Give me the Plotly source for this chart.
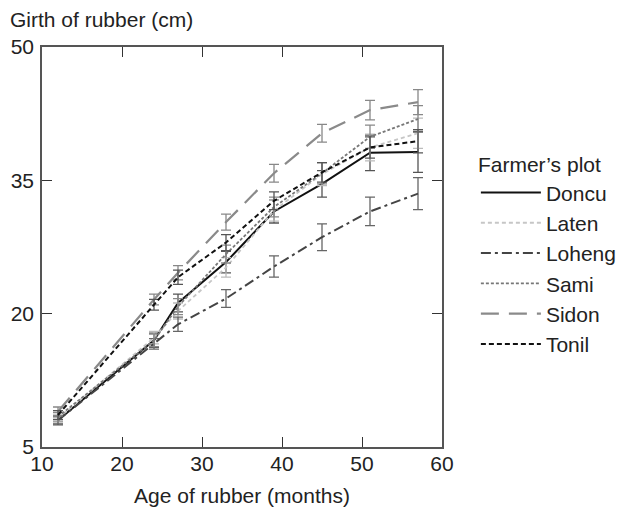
import plotly.graph_objects as go

ages = [12, 24, 27, 33, 39, 45, 51, 57]

doncu = [8.0, 17.0, 21.2, 25.8, 31.5, 34.6, 38.1, 38.2]
laten = [8.2, 17.3, 20.3, 25.2, 31.6, 35.7, 38.7, 40.3]
loheng = [8.0, 16.6, 18.8, 21.7, 25.3, 28.6, 31.5, 33.5]
sami = [8.4, 17.0, 20.8, 26.7, 32.0, 35.8, 39.9, 41.9]
sidon = [9.0, 21.6, 24.6, 30.3, 35.8, 40.3, 42.9, 43.8]
tonil = [8.6, 21.0, 24.1, 28.0, 32.7, 35.9, 38.7, 39.4]

doncu_err = [0.5, 0.8, 1.0, 1.2, 1.3, 1.5, 2.0, 2.3]
laten_err = [0.5, 0.7, 0.9, 1.1, 1.2, 1.3, 1.5, 1.7]
loheng_err = [0.4, 0.6, 0.8, 1.0, 1.2, 1.5, 1.6, 1.8]
sami_err = [0.5, 0.7, 0.9, 1.0, 1.1, 1.2, 1.3, 1.5]
sidon_err = [0.5, 0.6, 0.8, 0.9, 1.0, 1.0, 1.1, 1.4]
tonil_err = [0.5, 0.6, 0.8, 0.9, 1.0, 1.1, 1.2, 1.3]

y_ticks = [5, 20, 35, 50]
x_ticks = [10, 20, 30, 40, 50, 60]

series = [
    ("Doncu", doncu, doncu_err, "#111111", "solid", 2.0, "#555555"),
    ("Laten", laten, laten_err, "#c6c6c6", "4px,3px", 1.8, "#bbbbbb"),
    ("Loheng", loheng, loheng_err, "#444444", "10px,4px,3px,4px", 2.0, "#666666"),
    ("Sami", sami, sami_err, "#777777", "3px,2px", 1.8, "#888888"),
    ("Sidon", sidon, sidon_err, "#8a8a8a", "18px,10px", 2.2, "#888888"),
    ("Tonil", tonil, tonil_err, "#111111", "5px,3px", 2.0, "#555555"),
]

fig = go.Figure()
for name, vals, errs, color, dash, width, ecolor in series:
    fig.add_trace(go.Scatter(
        x=ages, y=vals, name=name, mode="lines",
        line=dict(color=color, dash=dash, width=width),
        error_y=dict(type="data", array=errs, visible=True,
                     color=ecolor, thickness=1.3, width=5),
    ))

font = "Liberation Sans, Arial, Helvetica, sans-serif"
fig.update_layout(
    width=625, height=517,
    margin=dict(l=34, r=190, t=39, b=78),
    paper_bgcolor="white", plot_bgcolor="white",
    font=dict(family=font, size=21, color="#222222"),
    showlegend=True,
    legend=dict(
        title=dict(text="Farmer’s plot", font=dict(size=21)),
        x=1.082, y=0.755, xanchor="left", yanchor="top",
        font=dict(size=21), tracegroupgap=0, itemwidth=60,
        bgcolor="rgba(0,0,0,0)",
    ),
    annotations=[dict(
        text="Girth of rubber (cm)", x=0, y=1, xref="paper", yref="paper",
        xanchor="left", yanchor="bottom", showarrow=False,
        xshift=-34, yshift=14, font=dict(size=21),
    )],
)
fig.update_xaxes(
    range=[10, 60], tickvals=x_ticks, ticks="inside", ticklen=10,
    tickwidth=1.3, tickcolor="#333333",
    showline=True, linecolor="#555555", linewidth=1.5, mirror="ticks",
    showgrid=False, zeroline=False, automargin=False, ticklabelstandoff=-3,
    title=dict(text="Age of rubber (months)", standoff=14, font=dict(size=21)),
    tickfont=dict(size=21),
)
fig.update_yaxes(
    range=[5, 50], tickvals=y_ticks, ticks="inside", ticklen=10,
    tickwidth=1.3, tickcolor="#333333",
    showline=True, linecolor="#555555", linewidth=1.5, mirror="ticks",
    showgrid=False, zeroline=False, automargin=False, ticklabelstandoff=2,
    tickfont=dict(size=21),
)

fig.write_html("out.html")
